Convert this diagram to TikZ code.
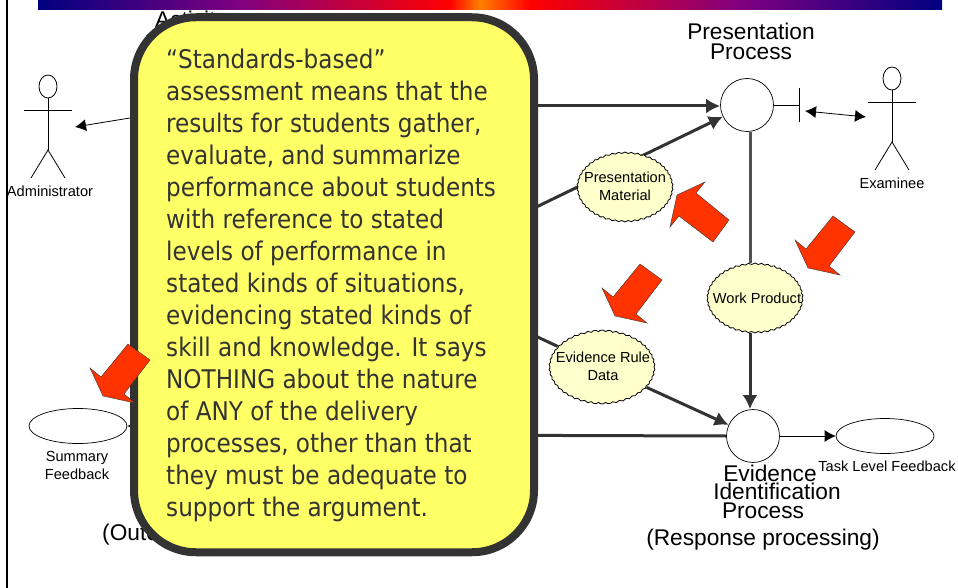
\documentclass[tikz,border=0pt]{standalone}
\usepackage{fontspec}
\setmainfont{Liberation Sans}
\newfontfamily\calloutfont{DejaVu Sans Condensed}
\usetikzlibrary{arrows.meta,backgrounds,shapes.geometric,shapes.symbols}

\definecolor{darkline}{HTML}{333333}
\definecolor{cloudfill}{HTML}{FFFFCC}
\definecolor{calloutfill}{HTML}{FFFF66}
\definecolor{redfill}{HTML}{FF3300}
\definecolor{barnavy}{HTML}{000080}
\definecolor{barpurple}{HTML}{800080}
\definecolor{barred}{HTML}{FF0000}
\definecolor{barorange}{HTML}{FF8000}

\tikzset{
  heavy/.style={line width=3pt,draw=darkline,-{Latex[length=14pt,width=15pt]}},
  heavyplain/.style={line width=3pt,draw=darkline},
  thin line/.style={line width=0.8pt},
  thinarrow/.style={line width=0.8pt,-{Latex[length=11pt,width=12pt]}},
  process/.style={circle,draw,line width=0.7pt,fill=white,minimum size=53pt,inner sep=0pt},
  feedback/.style={ellipse,draw,line width=0.7pt,fill=white,minimum width=98pt,minimum height=35pt,inner sep=0pt},
  datacloud/.style={cloud,draw,line width=0.8pt,fill=cloudfill,cloud puffs=46,cloud puff arc=100,
    cloud ignores aspect,inner sep=0pt},
  biglabel/.style={font=\biglabelfont,inner sep=0pt,align=center},
  smalllabel/.style={font=\smalllabel,inner sep=0pt,align=center},
  calloutbox/.style={rectangle,draw=darkline,fill=calloutfill,line width=8pt,rounded corners=62pt,
    minimum width=400pt,minimum height=535pt},
  callouttext/.style={anchor=north west,inner sep=0pt,align=left,text=darkline,font=\calloutsize},
  pics/stickman/.style={code={
    \draw[thin line] (0,-11.5) ellipse (9 and 11.5);
    \draw[thin line] (0,0) -- (0,52) (-24,12) -- (24,12);
    \draw[thin line] (-17,80) -- (0,52) -- (17,80);
  }},
  pics/redarrow/.style={code={
    \draw[fill=redfill,line width=0.4pt,draw=darkline]
      (0,0) -- (22,16) -- (-4,50) -- (7,59) -- (-25,52) -- (-38,24) -- (-27,33) -- cycle;
  }},
}
\newcommand{\biglabelfont}{\fontsize{22.7}{20}\selectfont}
\newcommand{\smalllabel}{\fontsize{14.6}{18}\selectfont}
\newcommand{\calloutsize}{\calloutfont\fontsize{25.7}{32}\selectfont}

\begin{document}
\begin{tikzpicture}[x=1pt,y=-1pt]
    \useasboundingbox (0,0) rectangle (958,588);

    %---- slide frame
    \draw[line width=2.6pt] (7,0) -- (7,588);
    \shade[left color=barnavy,right color=barpurple] (38,0) rectangle (240,10);
    \shade[left color=barpurple,right color=barred] (240,0) rectangle (450,10);
    \shade[left color=barred,right color=barorange] (450,0) rectangle (480,10);
    \shade[left color=barorange,right color=barred] (480,0) rectangle (530,10);
    \shade[left color=barred,right color=barpurple] (530,0) rectangle (740,10);
    \shade[left color=barpurple,right color=barnavy] (740,0) rectangle (942,10);

    %---- centers
    \coordinate (selection) at (400,106);
    \coordinate (scoring)   at (400,273);
    \coordinate (lowerline) at (400,435);
    \coordinate (adminfrom) at (200,106.5);
    \coordinate (admintip)  at (75,127);
    \coordinate (sumfrom)   at (300,426);
    \coordinate (handle)    at (799,105);
    \coordinate (handletop) at (799,88);
    \coordinate (handlebot) at (799,122);
    \coordinate (examleft)  at (805,111);
    \coordinate (examright) at (866,117);
    \coordinate (spine)     at (750,300);

    \node[process] (pres) at (747,105) {};
    \node[process] (evid) at (753,436) {};
    \node[datacloud,minimum width=96pt,minimum height=70pt] (material) at (625,187) {};
    \node[datacloud,minimum width=96pt,minimum height=70pt] (product) at (755,298) {};
    \node[datacloud,minimum width=106pt,minimum height=74pt] (ruledata) at (602,367) {};
    \node[feedback] (task) at (885,436) {};
    \node[feedback] (summary) at (78,426) {};

    %---- connectors, behind the shapes
    \begin{pgfonlayer}{background}
      \draw[heavy] (selection) -- (pres.west |- selection);
      \draw[heavy] (scoring) -- (pres);
      \draw[heavyplain,draw=darkline!85] (pres.south -| spine) -- (product.north -| spine);
      \draw[heavy] (product.south -| spine) -- (evid.north -| spine);
      \draw[heavyplain] (scoring) -- (ruledata);
      \draw[heavy] (ruledata) -- (evid);
      \draw[heavyplain] (lowerline) -- (evid.west);
    \end{pgfonlayer}
    \draw[thinarrow] (evid.east) -- (task.west);
    \draw[thinarrow] (adminfrom) -- (admintip);
    \draw[thinarrow] (sumfrom) -- (summary.east);
    \draw[thin line] (pres.east) -- (handle);
    \draw[thin line] (handletop) -- (handlebot);
    \draw[line width=0.8pt,{Latex[length=11pt,width=12pt]}-{Latex[length=11pt,width=12pt]}] (examleft) -- (examright);

    %---- actors
    \pic at (48,98) {stickman};
    \pic at (892,90) {stickman};
    \node[smalllabel] (adminlabel) at (50,191) {Administrator};
    \node[smalllabel] (examlabel) at (892,183) {Examinee};

    %---- labels
    \node[smalllabel] (materiallabel) at (625,186) {Presentation\\Material};
    \node[smalllabel] (productlabel) at (757,298) {Work Product};
    \node[smalllabel] (rulelabel) at (603,366) {Evidence Rule\\Data};
    \node[biglabel] (preslabel) at (751,41) {Presentation\\Process};
    \node[biglabel] (activitylabel) at (191,30) {Activity\\Selection};
    \node[biglabel] (evidlabela) at (770,473) {Evidence};
    \node[biglabel] (evidlabelb) at (777,491) {Identification};
    \node[biglabel] (evidlabelc) at (763,511) {Process};
    \node[biglabel] (resplabel) at (763,540) {(Response processing)};
    \node[biglabel,anchor=west] (outlabel) at (102,535) {(Outcome};
    \node[smalllabel] (tasklabel) at (887,466) {Task Level Feedback};
    \node[smalllabel] (sumlabel) at (77,465) {Summary\\Feedback};

    %---- red arrows
    \pic at (833,216) {redarrow};
    \pic at (640,264) {redarrow};
    \pic[rotate=-90] at (729,220) {redarrow};

    %---- callout
    \node[calloutbox] (callout) at (334,284.75) {};
    \node[callouttext] (callouttext) at (166,49) {“Standards-based”\\
      assessment means that the\\
      results for students gather,\\
      evaluate, and summarize\\
      performance about students\\
      with reference to stated\\
      levels of performance in\\
      stated kinds of situations,\\
      evidencing stated kinds of\\
      skill and knowledge.  It says\\
      NOTHING about the nature\\
      of ANY of the delivery\\
      processes, other than that\\
      they must be adequate to\\
      support the argument.};

    \pic at (128,344) {redarrow};
\end{tikzpicture}
\end{document}
